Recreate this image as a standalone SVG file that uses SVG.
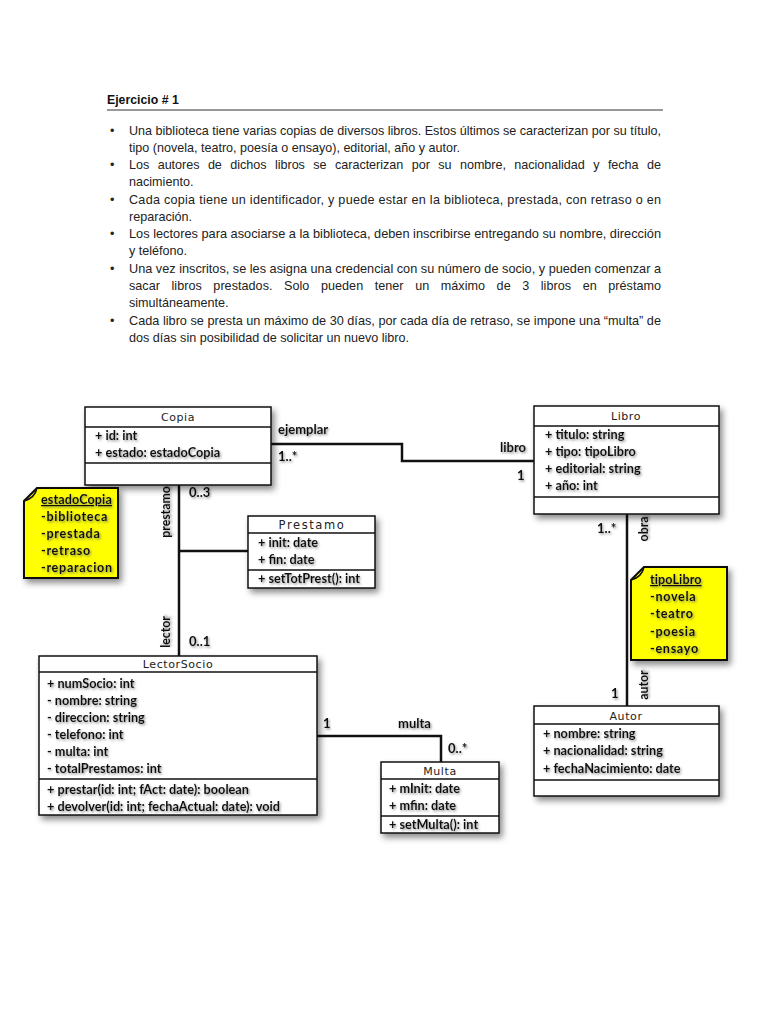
<svg xmlns="http://www.w3.org/2000/svg" width="768" height="1024" viewBox="0 0 768 1024">
<defs>
<filter id="sh" x="-10%" y="-10%" width="130%" height="140%">
<feDropShadow dx="3" dy="4" stdDeviation="3" flood-color="#000" flood-opacity="0.45"/>
</filter>
<filter id="tsh" x="-5%" y="-20%" width="115%" height="160%">
<feDropShadow dx="1.2" dy="1.5" stdDeviation="1" flood-color="#666" flood-opacity="0.7"/>
</filter>
<style>
.p{font-family:"Liberation Sans",Arial,sans-serif;font-size:12.6px;fill:#222}
.h{font-family:"Liberation Sans",Arial,sans-serif;font-size:12.3px;font-weight:bold;fill:#111}
.box{fill:#fff;stroke:#111;stroke-width:1.5}
.div{stroke:#111;stroke-width:1.5}
.ttl{font-family:"DejaVu Sans",Verdana,sans-serif;font-size:11px;fill:#222;text-anchor:middle;letter-spacing:0.6px}
.at{font-family:Lato,"Liberation Sans",sans-serif;font-size:12.7px;font-weight:bold;fill:#111;filter:url(#tsh)}
.lb{font-family:Lato,"Liberation Sans",sans-serif;font-size:13px;font-weight:bold;fill:#111;filter:url(#tsh)}
.con{fill:none;stroke:#111;stroke-width:2.5}
.note{fill:#ffff00;stroke:#111;stroke-width:2}
.nt{font-family:Lato,"Liberation Sans",sans-serif;font-size:12.6px;font-weight:bold;fill:#111;letter-spacing:0.7px;filter:url(#tsh)}
.nth{font-family:Lato,"Liberation Sans",sans-serif;font-size:12.6px;font-weight:bold;fill:#111;letter-spacing:0.1px;filter:url(#tsh)}
</style>
</defs>
<rect width="768" height="1024" fill="#fff"/>

<g id="enunciado">
<text class="h" x="107" y="104">Ejercicio # 1</text>
<line x1="107" y1="110" x2="663" y2="110" stroke="#333" stroke-width="1"/>
<g class="p">
<text x="110" y="135">•</text>
<text x="110" y="169">•</text>
<text x="110" y="204">•</text>
<text x="110" y="238">•</text>
<text x="110" y="273">•</text>
<text x="110" y="325">•</text>
<text x="129" y="135" textLength="532" lengthAdjust="spacingAndGlyphs">Una biblioteca tiene varias copias de diversos libros. Estos últimos se caracterizan por su título,</text>
<text x="129" y="152" textLength="331" lengthAdjust="spacingAndGlyphs">tipo (novela, teatro, poesía o ensayo), editorial, año y autor.</text>
<text x="129" y="169" textLength="532" lengthAdjust="spacing" word-spacing="5">Los autores de dichos libros se caracterizan por su nombre, nacionalidad y fecha de</text>
<text x="129" y="186">nacimiento.</text>
<text x="129" y="204" textLength="532" lengthAdjust="spacing">Cada copia tiene un identificador, y puede estar en la biblioteca, prestada, con retraso o en</text>
<text x="129" y="221">reparación.</text>
<text x="129" y="238" textLength="532" lengthAdjust="spacingAndGlyphs">Los lectores para asociarse a la biblioteca, deben inscribirse entregando su nombre, dirección</text>
<text x="129" y="255">y teléfono.</text>
<text x="129" y="273" textLength="532" lengthAdjust="spacingAndGlyphs">Una vez inscritos, se les asigna una credencial con su número de socio, y pueden comenzar a</text>
<text x="129" y="290" textLength="532" lengthAdjust="spacing" word-spacing="8">sacar libros prestados. Solo pueden tener un máximo de 3 libros en préstamo</text>
<text x="129" y="307">simultáneamente.</text>
<text x="129" y="325" textLength="532" lengthAdjust="spacingAndGlyphs">Cada libro se presta un máximo de 30 días, por cada día de retraso, se impone una “multa” de</text>
<text x="129" y="342">dos días sin posibilidad de solicitar un nuevo libro.</text>
</g>
</g>

<g id="connectors">
<path class="con" d="M271,444 H402 V461 H534"/>
<path class="con" d="M179,485 V656"/>
<path class="con" d="M179,551 H248"/>
<path class="con" d="M627,514 V706"/>
<path class="con" d="M317,736 H441 V762"/>
<text class="lb" x="278" y="434">ejemplar</text>
<text class="lb" x="278" y="461">1..*</text>
<text class="lb" x="500" y="452">libro</text>
<text class="lb" x="517" y="480">1</text>
<text class="lb" transform="translate(170,512) rotate(-90)" text-anchor="middle" style="font-size:12.3px">prestamo</text>
<text class="lb" x="189" y="497">0..3</text>
<text class="lb" transform="translate(170,632) rotate(-90)" text-anchor="middle" style="font-size:12.3px">lector</text>
<text class="lb" x="189" y="646">0..1</text>
<text class="lb" x="597" y="533">1..*</text>
<text class="lb" transform="translate(648,529) rotate(-90)" text-anchor="middle" style="font-size:12.3px">obra</text>
<text class="lb" x="611" y="698">1</text>
<text class="lb" transform="translate(648,685) rotate(-90)" text-anchor="middle" style="font-size:12.3px">autor</text>
<text class="lb" x="323" y="728">1</text>
<text class="lb" x="398" y="728">multa</text>
<text class="lb" x="448" y="753">0..*</text>
</g>

<g id="Copia">
<rect class="box" x="85" y="407" width="186" height="78" filter="url(#sh)"/>
<line class="div" x1="85" y1="427" x2="271" y2="427"/>
<line class="div" x1="85" y1="463" x2="271" y2="463"/>
<text class="ttl" x="178" y="421">Copia</text>
<text class="at" x="95" y="440">+ id: int</text>
<text class="at" x="95" y="457">+ estado: estadoCopia</text>
</g>

<g id="Libro">
<rect class="box" x="534" y="406" width="185" height="108" filter="url(#sh)"/>
<line class="div" x1="534" y1="426" x2="719" y2="426"/>
<line class="div" x1="534" y1="497" x2="719" y2="497"/>
<text class="ttl" x="626" y="420">Libro</text>
<text class="at" x="545" y="439">+ titulo: string</text>
<text class="at" x="545" y="456">+ tipo: tipoLibro</text>
<text class="at" x="545" y="473">+ editorial: string</text>
<text class="at" x="545" y="490">+ año: int</text>
</g>

<g id="Prestamo">
<rect class="box" x="248" y="516" width="127" height="72" filter="url(#sh)"/>
<line class="div" x1="248" y1="533" x2="375" y2="533"/>
<line class="div" x1="248" y1="570" x2="375" y2="570"/>
<text class="ttl" x="312" y="529" style="font-size:11.5px;letter-spacing:1.6px">Prestamo</text>
<text class="at" x="258" y="547">+ init: date</text>
<text class="at" x="258" y="564">+ fin: date</text>
<text class="at" x="258" y="583">+ setTotPrest(): int</text>
</g>

<g id="LectorSocio">
<rect class="box" x="39" y="656" width="278" height="159" filter="url(#sh)"/>
<line class="div" x1="39" y1="672" x2="317" y2="672"/>
<line class="div" x1="39" y1="779" x2="317" y2="779"/>
<text class="ttl" x="178" y="668">LectorSocio</text>
<text class="at" x="47" y="688">+ numSocio: int</text>
<text class="at" x="47" y="705">- nombre: string</text>
<text class="at" x="47" y="722">- direccion: string</text>
<text class="at" x="47" y="739">- telefono: int</text>
<text class="at" x="47" y="756">- multa: int</text>
<text class="at" x="47" y="773">- totalPrestamos: int</text>
<text class="at" x="47" y="794">+ prestar(id: int; fAct: date): boolean</text>
<text class="at" x="47" y="811">+ devolver(id: int; fechaActual: date): void</text>
</g>

<g id="Multa">
<rect class="box" x="381" y="762" width="118" height="71" filter="url(#sh)"/>
<line class="div" x1="381" y1="779" x2="499" y2="779"/>
<line class="div" x1="381" y1="816" x2="499" y2="816"/>
<text class="ttl" x="440" y="775">Multa</text>
<text class="at" x="389" y="793">+ mInit: date</text>
<text class="at" x="389" y="810">+ mfin: date</text>
<text class="at" x="389" y="829">+ setMulta(): int</text>
</g>

<g id="Autor">
<rect class="box" x="534" y="706" width="185" height="90" filter="url(#sh)"/>
<line class="div" x1="534" y1="724" x2="719" y2="724"/>
<line class="div" x1="534" y1="780" x2="719" y2="780"/>
<text class="ttl" x="626" y="720">Autor</text>
<text class="at" x="543" y="738">+ nombre: string</text>
<text class="at" x="543" y="755">+ nacionalidad: string</text>
<text class="at" x="543" y="773">+ fechaNacimiento: date</text>
</g>

<g id="estadoCopia">
<path class="note" d="M37,488 H118 V578 H24 V501 Z" filter="url(#sh)"/>
<path d="M37,488 Q35,498 24,501" fill="none" stroke="#111" stroke-width="1.5"/>
<text class="nth" x="41" y="504" text-decoration="underline">estadoCopia</text>
<text class="nt" x="41" y="521">-biblioteca</text>
<text class="nt" x="41" y="538">-prestada</text>
<text class="nt" x="41" y="555">-retraso</text>
<text class="nt" x="41" y="572">-reparacion</text>
</g>

<g id="tipoLibro">
<path class="note" d="M644,567 H727 V660 H631 V580 Z" filter="url(#sh)"/>
<path d="M644,567 Q642,577 631,580" fill="none" stroke="#111" stroke-width="1.5"/>
<text class="nth" x="650" y="584" text-decoration="underline">tipoLibro</text>
<text class="nt" x="650" y="601">-novela</text>
<text class="nt" x="650" y="618">-teatro</text>
<text class="nt" x="650" y="636">-poesia</text>
<text class="nt" x="650" y="653">-ensayo</text>
</g>
</svg>
